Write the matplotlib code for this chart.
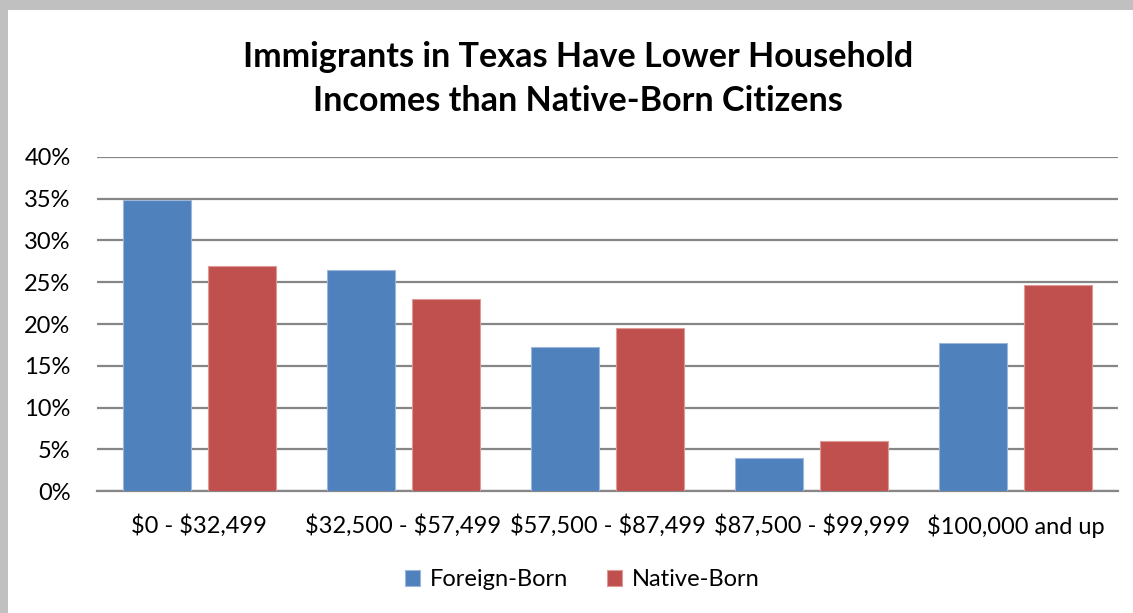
import matplotlib.pyplot as plt
import numpy as np
from matplotlib.patches import Rectangle
from matplotlib.ticker import PercentFormatter

categories = ["$0 - $32,499", "$32,500 - $57,499", "$57,500 - $87,499",
              "$87,500 - $99,999", "$100,000 and up"]
foreign_born = [34.8, 26.5, 17.3, 3.9, 17.7]
native_born = [27.0, 23.0, 19.5, 6.0, 24.7]

blue = '#4F81BD'
red = '#C0504D'

plt.rcParams['font.family'] = ['Lato', 'DejaVu Sans']
plt.rcParams['text.parse_math'] = False

fig = plt.figure(figsize=(11.33, 6.13), dpi=100)
ax = fig.add_axes([0.0856, 0.199, 0.9012, 0.5449])

# gray frame around the chart area (top and left strips)
fig.patches.append(Rectangle((0, 1 - 10 / 613), 1, 10 / 613, transform=fig.transFigure,
                             facecolor='#C0C0C0', edgecolor='none', zorder=0))
fig.patches.append(Rectangle((0, 0), 8 / 1133, 1, transform=fig.transFigure,
                             facecolor='#C0C0C0', edgecolor='none', zorder=0))

x = np.arange(len(categories))
w = 0.333
ax.bar(x - 0.208, foreign_born, w, color=blue, edgecolor='#9DB7DA', linewidth=0.8,
       label='Foreign-Born', zorder=3)
ax.bar(x + 0.208, native_born, w, color=red, edgecolor='#DC9A98', linewidth=0.8,
       label='Native-Born', zorder=3)

ax.set_xlim(-0.5, len(categories) - 0.5)
ax.set_ylim(0, 40)
ax.set_yticks(range(0, 41, 5))
ax.yaxis.set_major_formatter(PercentFormatter(decimals=0))
ax.grid(axis='y', color='#868686', linewidth=1.6, zorder=0)
ax.set_axisbelow(True)
for s in ['top', 'right', 'left']:
    ax.spines[s].set_visible(False)
ax.spines['bottom'].set_color('#868686')
ax.spines['bottom'].set_linewidth(1.6)

ax.set_xticks(x)
ax.set_xticklabels(categories)
ax.tick_params(axis='x', length=0, pad=17, labelsize=17)
ax.tick_params(axis='y', length=0, pad=19, labelsize=17)

fig.text(0.51, 0.871, "Immigrants in Texas Have Lower Household\nIncomes than Native-Born Citizens",
         ha='center', va='center', fontsize=24.6, fontweight='bold', linespacing=1.45)

fig.legend(loc='center', bbox_to_anchor=(0.514, 0.054), ncol=2, frameon=False,
           fontsize=17, handlelength=0.65, handleheight=0.65, handletextpad=0.4,
           columnspacing=1.65)

plt.savefig('out.png', dpi=100)
